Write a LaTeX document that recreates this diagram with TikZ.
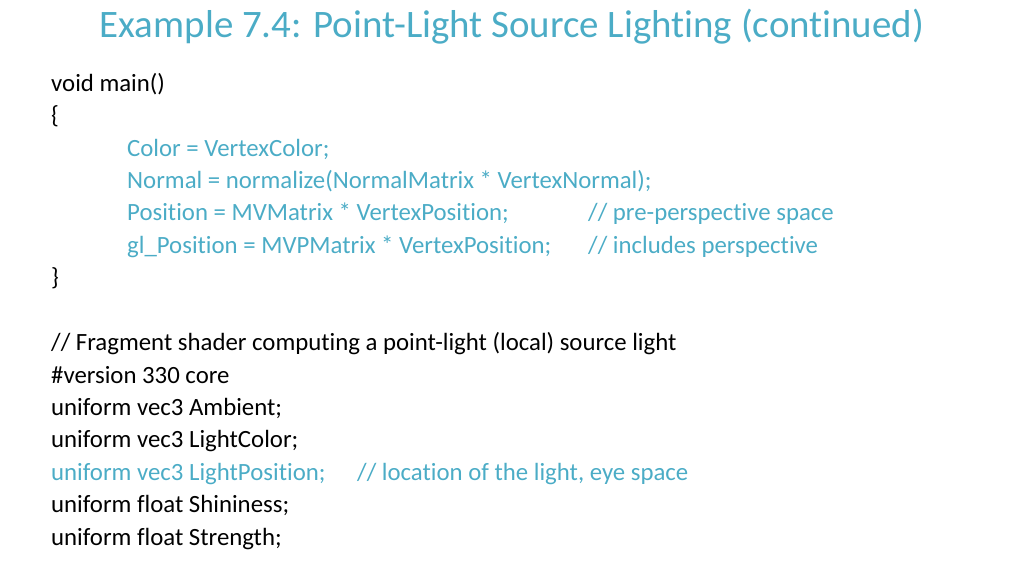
\documentclass[tikz,border=0pt]{standalone}
\usepackage{fontspec}
\setmainfont[RawFeature={-liga;-clig}]{Carlito}
\definecolor{tblue}{HTML}{4BACC6}
\begin{document}
\begin{tikzpicture}[x=1pt,y=-1pt,
  ln/.style={anchor=base west,inner sep=0pt,font=\fontsize{24.8}{29}\selectfont},
  bl/.style={ln,text=tblue}]
\useasboundingbox (0,0) rectangle (1024,576);
\node[anchor=base,inner sep=0pt,text=tblue,font=\fontsize{38.9}{44}\selectfont] (title) at (512,37) {Example 7.4: Point-Light Source Lighting (continued)};
\node[ln] (l1) at (51,91) {void main()};
\node[ln] (l2) at (51,123) {\{};
\node[bl] (l3) at (127,156) {Color = VertexColor;};
\node[bl] (l4) at (127,188) {Normal = normalize(NormalMatrix * VertexNormal);};
\node[bl] (l5) at (127,220) {Position = MVMatrix * VertexPosition;};
\node[bl] (c5) at (588,220) {// pre-perspective space};
\node[bl] (l6) at (127,253) {gl\_Position = MVPMatrix * VertexPosition;};
\node[bl] (c6) at (588,253) {// includes perspective};
\node[ln] (l7) at (51,285) {\}};
\node[ln] (l8) at (51,350) {// Fragment shader computing a point-light (local) source light};
\node[ln] (l9) at (51,383) {\#version 330 core};
\node[ln] (l10) at (51,415) {uniform vec3 Ambient;};
\node[ln] (l11) at (51,447) {uniform vec3 LightColor;};
\node[bl] (l12) at (51,480) {uniform vec3 LightPosition;};
\node[bl] (c12) at (357,480) {// location of the light, eye space};
\node[ln] (l13) at (51,512) {uniform float Shininess;};
\node[ln] (l14) at (51,545) {uniform float Strength;};
\end{tikzpicture}
\end{document}
